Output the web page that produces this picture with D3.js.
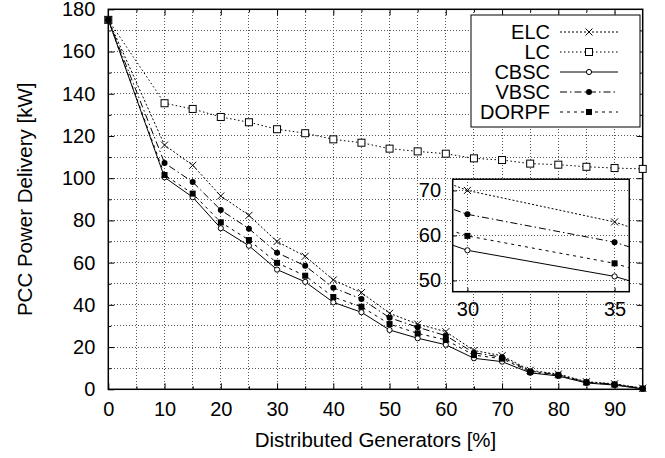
<!DOCTYPE html>
<html>
<head>
  <meta charset="utf-8">
  <title>PCC Power Delivery</title>
  <script src="https://d3js.org/d3.v7.min.js"></script>
  <style>
    body { margin: 0; background: #fff; }
    svg { font-family: "Liberation Sans", Arial, sans-serif; }
    .grid line { stroke: #555; stroke-dasharray: 1,2; shape-rendering: crispEdges; }
    .tick line { stroke: #000; }
  </style>
</head>
<body>
  <div id="vis"></div>
  <script>
    const width = 665
    const height = 458

    // distributed generators [%]
    const dg = [0, 10, 15, 20, 25, 30, 35, 40, 45, 50, 55, 60, 65, 70, 75, 80, 85, 90, 95]

    // PCC power delivery [kW]
    const elc   = [175, 115.7, 106.1, 91.6, 82.4, 70.0, 63.0, 51.8, 45.8, 36.0, 30.9, 27.3, 18.4, 15.9, 9.0, 7.2, 3.6, 2.6, 0.5]
    const lc    = [175, 135.5, 132.8, 129.0, 126.5, 123.2, 121.3, 118.4, 116.8, 114.0, 112.7, 111.6, 109.4, 108.6, 106.9, 106.4, 105.4, 104.8, 104.4]
    const cbsc  = [175, 100.4, 91.0, 76.3, 68.0, 56.7, 50.9, 41.2, 36.5, 28.1, 24.2, 21.1, 14.7, 13.1, 7.8, 6.3, 3.0, 2.0, 0.2]
    const vbsc  = [175, 107.2, 98.2, 84.9, 76.1, 64.7, 58.5, 48.1, 42.8, 33.9, 29.4, 25.4, 17.3, 15.2, 8.6, 6.9, 3.4, 2.4, 0.4]
    const dorpf = [175, 101.5, 92.7, 79.1, 70.7, 59.9, 53.8, 43.7, 39.1, 30.9, 26.5, 23.4, 16.2, 14.5, 8.2, 6.6, 3.2, 2.2, 0.3]

    const seriesNames = ["ELC", "LC", "CBSC", "VBSC", "DORPF"]

    const series = [
      { name: "ELC",   values: elc,   dash: "2,2",        marker: "x" },
      { name: "LC",    values: lc,    dash: "1.5,2.5",    marker: "square" },
      { name: "CBSC",  values: cbsc,  dash: null,         marker: "circle" },
      { name: "VBSC",  values: vbsc,  dash: "7,3,1.5,3",  marker: "dot" },
      { name: "DORPF", values: dorpf, dash: "3,4",        marker: "fsquare" }
    ]

    const xTicks = d3.range(0, 91, 10)
    const yTicks = d3.range(0, 181, 20)
    const insetXTicks = [30, 35]
    const insetYTicks = [50, 60, 70]

    const fontSize = 20
    const pLeft = 108.3, pRight = 642.7, pTop = 9.3, pBottom = 389.3

    const x = d3.scaleLinear().domain([0, 95]).range([pLeft, pRight])
    const y = d3.scaleLinear().domain([0, 180]).range([pBottom, pTop])

    const svg = d3.select("#vis")
      .append("svg")
      .attr("width", width)
      .attr("height", height)

    // grid
    const grid = svg.append("g").attr("class", "grid")
    grid.selectAll("line.gx")
      .data(d3.range(5, 95, 5))
      .join("line")
      .attr("x1", d => x(d)).attr("x2", d => x(d))
      .attr("y1", pTop).attr("y2", pBottom)
    grid.selectAll("line.gy")
      .data(d3.range(10, 180, 10))
      .join("line")
      .attr("class", "gy")
      .attr("x1", pLeft).attr("x2", pRight)
      .attr("y1", d => y(d)).attr("y2", d => y(d))

    // axes (ticks point inward, gnuplot style)
    function styleAxis(g) {
      g.select(".domain").remove()
      g.selectAll("text").attr("font-size", fontSize).attr("fill", "#000")
      g.selectAll("text").attr("font-family", "Liberation Sans, Arial, sans-serif")
    }

    svg.append("g")
      .attr("transform", `translate(0,${pBottom})`)
      .call(d3.axisBottom(x).tickValues(xTicks).tickSize(-6).tickPadding(13))
      .call(styleAxis)
    svg.append("g")
      .attr("transform", `translate(0,${pBottom})`)
      .call(d3.axisBottom(x).tickValues(d3.range(5, 95, 10)).tickSize(-3).tickFormat(""))
      .call(styleAxis)
    svg.append("g")
      .attr("transform", `translate(0,${pTop})`)
      .call(d3.axisTop(x).tickValues(d3.range(10, 95, 10)).tickSize(-6).tickFormat(""))
      .call(styleAxis)
    svg.append("g")
      .attr("transform", `translate(0,${pTop})`)
      .call(d3.axisTop(x).tickValues(d3.range(5, 95, 10)).tickSize(-3).tickFormat(""))
      .call(styleAxis)

    svg.append("g")
      .attr("transform", `translate(${pLeft},0)`)
      .call(d3.axisLeft(y).tickValues(yTicks).tickSize(-6).tickPadding(13))
      .call(styleAxis)
    svg.append("g")
      .attr("transform", `translate(${pLeft},0)`)
      .call(d3.axisLeft(y).tickValues(d3.range(10, 180, 20)).tickSize(-3).tickFormat(""))
      .call(styleAxis)
    svg.append("g")
      .attr("transform", `translate(${pRight},0)`)
      .call(d3.axisRight(y).tickValues(yTicks.slice(1, -1)).tickSize(-6).tickFormat(""))
      .call(styleAxis)
    svg.append("g")
      .attr("transform", `translate(${pRight},0)`)
      .call(d3.axisRight(y).tickValues(d3.range(10, 180, 20)).tickSize(-3).tickFormat(""))
      .call(styleAxis)

    svg.append("rect")
      .attr("x", pLeft).attr("y", pTop)
      .attr("width", pRight - pLeft).attr("height", pBottom - pTop)
      .attr("fill", "none").attr("stroke", "#000").attr("stroke-width", 1.5)

    // axis titles
    svg.append("text")
      .attr("x", (pLeft + pRight) / 2)
      .attr("y", 447)
      .attr("text-anchor", "middle")
      .attr("font-size", 20.5)
      .text("Distributed Generators [%]")

    svg.append("text")
      .attr("transform", `translate(32,${(pTop + pBottom) / 2}) rotate(-90)`)
      .attr("text-anchor", "middle")
      .attr("font-size", 20.5)
      .text("PCC Power Delivery [kW]")

    // markers
    function drawMarker(g, type, cx, cy) {
      if (type === "x") {
        const s = 3.5
        g.append("path")
          .attr("d", `M${cx - s},${cy - s}L${cx + s},${cy + s}M${cx - s},${cy + s}L${cx + s},${cy - s}`)
          .attr("stroke", "#000").attr("stroke-width", 1).attr("fill", "none")
      } else if (type === "square") {
        g.append("rect")
          .attr("x", cx - 3.5).attr("y", cy - 3.5).attr("width", 7).attr("height", 7)
          .attr("fill", "#fff").attr("stroke", "#000").attr("stroke-width", 1)
      } else if (type === "circle") {
        g.append("circle")
          .attr("cx", cx).attr("cy", cy).attr("r", 2.6)
          .attr("fill", "#fff").attr("stroke", "#000").attr("stroke-width", 1)
      } else if (type === "dot") {
        g.append("circle")
          .attr("cx", cx).attr("cy", cy).attr("r", 3)
          .attr("fill", "#000")
      } else if (type === "fsquare") {
        g.append("rect")
          .attr("x", cx - 3).attr("y", cy - 3).attr("width", 6).attr("height", 6)
          .attr("fill", "#000")
      }
    }

    function drawSeries(g, sx, sy) {
      series.forEach(s => {
        const line = d3.line()
          .x((d, i) => sx(dg[i]))
          .y(d => sy(d))
        g.append("path")
          .datum(s.values)
          .attr("d", line)
          .attr("fill", "none")
          .attr("stroke", "#000")
          .attr("stroke-width", 1)
          .attr("stroke-dasharray", s.dash)
      })
      series.forEach(s => {
        s.values.forEach((v, i) => drawMarker(g, s.marker, sx(dg[i]), sy(v)))
      })
    }

    drawSeries(svg.append("g"), x, y)

    // legend
    const legend = svg.append("g")
    legend.append("rect")
      .attr("x", 471).attr("y", 15).attr("width", 169).attr("height", 112)
      .attr("fill", "#fff").attr("stroke", "#000").attr("stroke-width", 1)
    seriesNames.forEach((name, i) => {
      const s = series[i]
      const ly = 32 + i * 20
      legend.append("text")
        .attr("x", 550).attr("y", ly)
        .attr("dy", "0.35em")
        .attr("text-anchor", "end")
        .attr("font-size", fontSize)
        .text(name)
      legend.append("line")
        .attr("x1", 560).attr("x2", 618)
        .attr("y1", ly).attr("y2", ly)
        .attr("stroke", "#000").attr("stroke-width", 1)
        .attr("stroke-dasharray", s.dash)
      drawMarker(legend, s.marker, 589, ly)
    })

    // inset zoom on 30-35 %
    const ix = d3.scaleLinear().domain([29.5, 35.5]).range([452.7, 629.3])
    const iy = d3.scaleLinear().domain([47.5, 72.5]).range([291.7, 179.2])

    const inset = svg.append("g")
    inset.append("rect")
      .attr("x", ix.range()[0]).attr("y", iy.range()[1])
      .attr("width", ix.range()[1] - ix.range()[0])
      .attr("height", iy.range()[0] - iy.range()[1])
      .attr("fill", "#fff")

    svg.append("clipPath").attr("id", "insetClip")
      .append("rect")
      .attr("x", ix.range()[0]).attr("y", iy.range()[1])
      .attr("width", ix.range()[1] - ix.range()[0])
      .attr("height", iy.range()[0] - iy.range()[1])

    const igrid = inset.append("g").attr("class", "grid")
    igrid.selectAll("line.ix")
      .data(insetXTicks)
      .join("line")
      .attr("x1", d => ix(d)).attr("x2", d => ix(d))
      .attr("y1", iy.range()[1]).attr("y2", iy.range()[0])
    igrid.selectAll("line.iy")
      .data(insetYTicks)
      .join("line")
      .attr("class", "iy")
      .attr("x1", ix.range()[0]).attr("x2", ix.range()[1])
      .attr("y1", d => iy(d)).attr("y2", d => iy(d))

    inset.append("g")
      .attr("transform", `translate(0,${iy.range()[0]})`)
      .call(d3.axisBottom(ix).tickValues(insetXTicks).tickFormat(d3.format("d")).tickSize(-4).tickPadding(10.5))
      .call(styleAxis)
    inset.append("g")
      .attr("transform", `translate(${ix.range()[0]},0)`)
      .call(d3.axisLeft(iy).tickValues(insetYTicks).tickFormat(d3.format("d")).tickSize(-4).tickPadding(11.7))
      .call(styleAxis)

    drawSeries(inset.append("g").attr("clip-path", "url(#insetClip)"), ix, iy)

    inset.append("rect")
      .attr("x", ix.range()[0]).attr("y", iy.range()[1])
      .attr("width", ix.range()[1] - ix.range()[0])
      .attr("height", iy.range()[0] - iy.range()[1])
      .attr("fill", "none").attr("stroke", "#000").attr("stroke-width", 1.5)
  </script>
</body>
</html>
